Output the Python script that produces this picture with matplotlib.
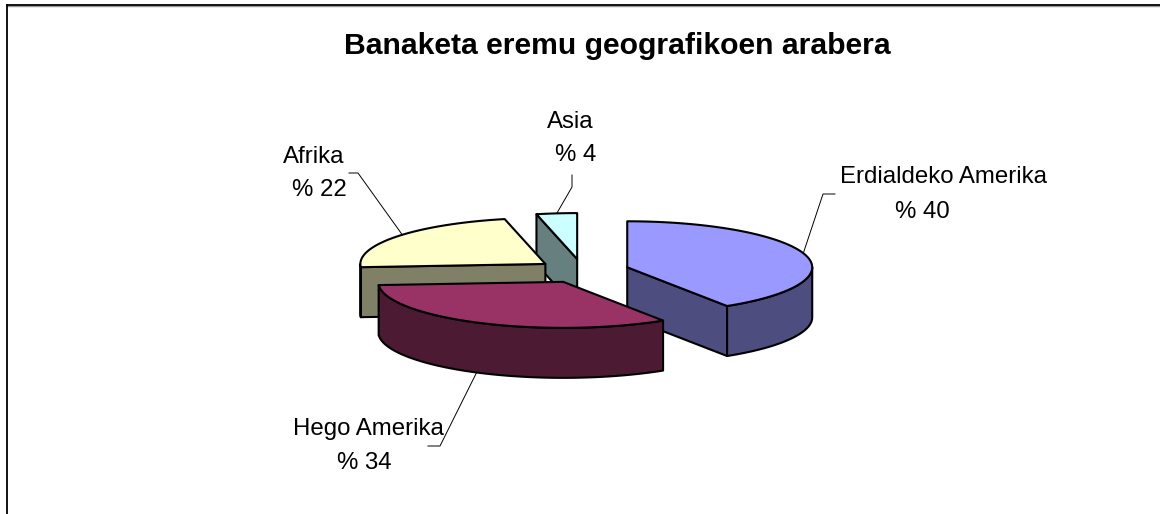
import numpy as np
import matplotlib
matplotlib.use("Agg")
import matplotlib.pyplot as plt

regions = ["Erdialdeko Amerika", "Hego Amerika", "Afrika", "Asia"]
shares = [40, 34, 22, 4]
value_labels = ["% 40", "% 34", "% 22", "% 4"]
top_colors = ["#9999FF", "#993366", "#FFFFCC", "#CCFFFF"]
side_colors = ["#4D4D80", "#4D1A33", "#808066", "#668080"]

# drawing order, back to front
draw_order = [3, 2, 0, 1]

# pie projection, in pixels
cx, cy = 583, 271
rx, ry = 185, 46
explode_x, explode_y = 46.5, 12
depth = 50

# label name / value positions (left x, baseline y), and leader elbows
name_pos = [(840, 183), (293, 435), (283, 163), (547, 128)]
value_pos = [(895, 218), (337, 469), (292, 196), (555, 161)]
leader_angles = [74, 211, 306, 352.8]
elbows = [[(823, 194), (835, 194)], [(440, 446), (428, 446)],
          [(358, 173), (349, 173)], [(572, 187), (572, 175)]]


def warp(theta):
    # excel's 3d view pulls the angles a little towards the vertical axis
    return theta - 3.5 * np.sin(np.radians(2 * theta))


def rim(apex, theta):
    p = np.radians(warp(np.asarray(theta, dtype=float)))
    return np.column_stack([apex[0] + rx * np.sin(p), apex[1] - ry * np.cos(p)])


def face(ax, pts, color):
    ax.fill(pts[:, 0], pts[:, 1], facecolor=color, edgecolor="black",
            linewidth=1.5, joinstyle="round")


fig = plt.figure(figsize=(11.6, 5.14), dpi=100)
ax = fig.add_axes([0, 0, 1, 1])
ax.set_xlim(0, 1160)
ax.set_ylim(514, 0)
ax.axis("off")
plt.rcParams["font.family"] = ["Liberation Sans", "DejaVu Sans"]

# chart area border, only top and left are in the crop
ax.plot([6.5, 1160], [6, 6], color="#999999", lw=1.0)
ax.plot([6.5, 1160], [4.8, 4.8], color="black", lw=1.3)
ax.plot([6.5, 6.5], [4.8, 514], color="black", lw=1.3)

edges = np.concatenate([[0], np.cumsum(shares)]) * 360.0 / sum(shares)
mids = (edges[:-1] + edges[1:]) / 2
apexes = [(cx + explode_x * np.sin(np.radians(m)), cy - explode_y * np.cos(np.radians(m)))
          for m in mids]

for i in draw_order:
    t0, t1 = edges[i], edges[i + 1]
    apex = apexes[i]
    shift = np.array([0, depth])
    a = np.array(apex)

    # cut faces turned to the viewer
    for t, visible in ((t0, np.sin(np.radians(t0)) < -1e-6), (t1, np.sin(np.radians(t1)) > 1e-6)):
        if visible:
            p = rim(apex, [t])[0]
            face(ax, np.array([a, p, p + shift, a + shift]), side_colors[i])

    # front part of the rim wall
    lo, hi = max(t0, 90), min(t1, 270)
    if hi > lo:
        arc = rim(apex, np.linspace(lo, hi, 60))
        face(ax, np.vstack([arc, arc[::-1] + shift]), side_colors[i])

    # top
    arc = rim(apex, np.linspace(t0, t1, 80))
    face(ax, np.vstack([a, arc]), top_colors[i])

# leaders and labels
for i in range(len(shares)):
    t = leader_angles[i]
    start = rim(apexes[i], [t])[0]
    if 90 < t < 270:
        start = start + [0, depth]
    xs = [start[0]] + [p[0] for p in elbows[i]]
    ys = [start[1]] + [p[1] for p in elbows[i]]
    ax.plot(xs, ys, color="black", lw=0.7, zorder=5)
    ax.text(name_pos[i][0], name_pos[i][1], regions[i], fontsize=17.3,
            ha="left", va="baseline", color="black", zorder=6)
    ax.text(value_pos[i][0], value_pos[i][1], value_labels[i], fontsize=17.3,
            ha="left", va="baseline", color="black", zorder=6)

ax.text(344, 54, "Banaketa eremu geografikoen arabera", fontsize=21.7,
        fontweight="bold", ha="left", va="baseline", color="black")

fig.savefig("out.png", dpi=100)
